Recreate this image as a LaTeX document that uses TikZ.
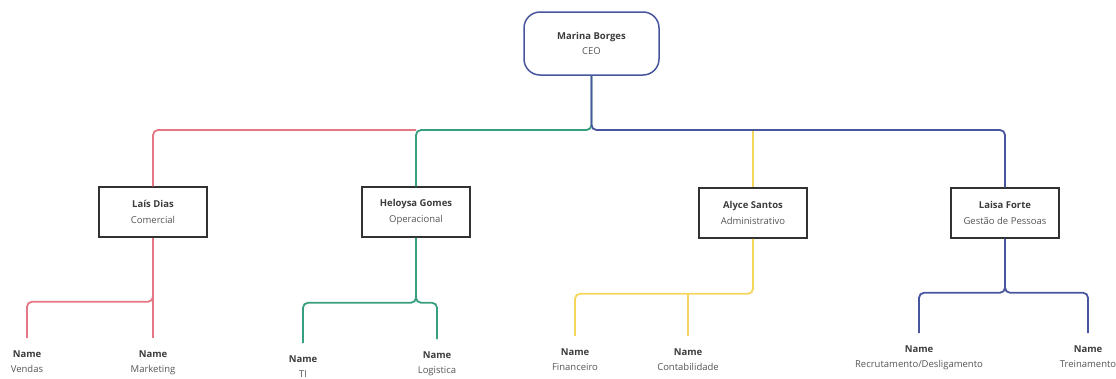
\documentclass[tikz,border=0pt]{standalone}
\usepackage{fontspec}
\setmainfont{Open Sans}
\definecolor{rdc}{RGB}{229,118,132}
\definecolor{grc}{RGB}{56,158,128}
\definecolor{blc}{RGB}{72,86,158}
\definecolor{ylc}{RGB}{244,214,92}
\definecolor{boxc}{RGB}{50,50,50}
\definecolor{namec}{RGB}{60,60,60}
\definecolor{subc}{RGB}{85,85,85}
\newcommand{\pname}[1]{\textcolor{namec}{\textbf{#1}}}
\begin{document}
\begin{tikzpicture}[x=1pt,y=-1pt,
  box/.style={draw=boxc, line width=1.5pt, minimum width=108pt, minimum height=50pt,
    align=center, inner sep=2pt, font=\fontsize{9.5}{16}\selectfont, text=subc},
  ceobox/.style={draw=blc, line width=1.5pt, rounded corners=16pt, minimum width=135pt,
    minimum height=63pt, align=center, font=\fontsize{9.5}{15}\selectfont, text=subc},
  leaf/.style={anchor=north, align=center, inner sep=0pt,
    font=\fontsize{9.5}{15}\selectfont, text=subc},
  link/.style={line width=1.8pt, rounded corners=5pt},
  rd/.style={link, draw=rdc},
  gr/.style={link, draw=grc},
  bl/.style={link, draw=blc},
  yl/.style={link, draw=ylc},
  legtop/.style={yshift=12.5pt}]
\useasboundingbox (0,0) rectangle (1116,378);

% nodes
\node[ceobox] (ceo) at (591.5,43.5) {\pname{Marina Borges}\\CEO};
\node[box] (lais)  at (153,212)  {\pname{Laís Dias}\\Comercial};
\node[box] (hel)   at (416,212)  {\pname{Heloysa Gomes}\\Operacional};
\node[box] (aly)   at (753,213)  {\pname{Alyce Santos}\\Administrativo};
\node[box] (laisa) at (1005,213) {\pname{Laisa Forte}\\Gestão de Pessoas};

\node[leaf] (vend) at (27,350.5)   {\pname{Name}\\Vendas};
\node[leaf] (mkt)  at (153,350.5)  {\pname{Name}\\Marketing};
\node[leaf] (ti)   at (303,355.5)  {\pname{Name}\\TI};
\node[leaf] (logi) at (437,351.5)  {\pname{Name}\\Logistica};
\node[leaf] (fin)  at (575,348.5)  {\pname{Name}\\Financeiro};
\node[leaf] (con)  at (688,348.5)  {\pname{Name}\\Contabilidade};
\node[leaf] (rec)  at (919,345.5)  {\pname{Name}\\Recrutamento/Desligamento};
\node[leaf] (tre)  at (1088,345.5) {\pname{Name}\\Treinamento};

\coordinate (bus) at (591.5,130);

% top level connectors
\draw[rd] (hel.north |- bus) -| (lais.north);
\draw[yl] (aly.north |- bus) -- (aly.north);
\draw[gr] (ceo.south) -- (bus) -| (hel.north);
\draw[bl] (ceo.south) -- (bus) -| (laisa.north);

% Comercial
\draw[rd] (lais.south) -- ([legtop]mkt.north);
\draw[rd] ([yshift=-54pt]lais.south) -- ++(0,10) -| ([legtop]vend.north);

% Operacional
\draw[gr] (hel.south) -- ++(0,65) -| ([legtop]ti.north);
\draw[gr] (hel.south) -- ++(0,65) -| ([legtop]logi.north);

% Administrativo
\draw[yl] (aly.south) -- ++(0,55) -| ([legtop]fin.north);
\draw[yl] ([legtop]con.north) -- ++(0,-43);

% Gestao de Pessoas
\draw[bl] (laisa.south) -- ++(0,54) -| ([legtop]rec.north);
\draw[bl] (laisa.south) -- ++(0,54) -| ([legtop]tre.north);
\end{tikzpicture}
\end{document}
